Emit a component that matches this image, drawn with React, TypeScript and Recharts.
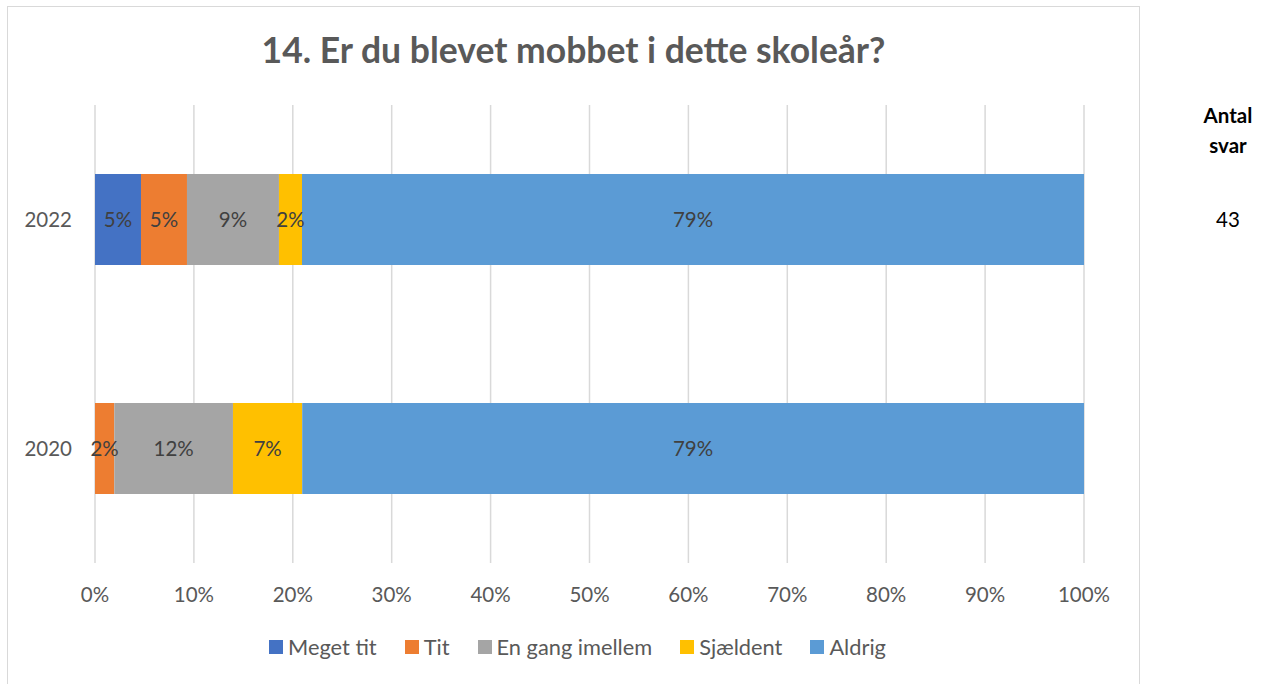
import React from 'react';
import { BarChart, Bar, XAxis, YAxis, CartesianGrid, LabelList } from 'recharts';

const title = '14. Er du blevet mobbet i dette skoleår?';
const years = ['2022', '2020'];
const megetTit = [4.65, 0];
const tit = [4.65, 1.95];
const enGang = [9.3, 12.0];
const sjaeldent = [2.33, 7.0];
const aldrig = [79.07, 79.05];
const antalSvar = ['43', ''];
const xTicks = [0, 10, 20, 30, 40, 50, 60, 70, 80, 90, 100];

const series = [
  { key: 'megetTit', name: 'Meget tit', color: '#4472C4' },
  { key: 'tit', name: 'Tit', color: '#ED7D31' },
  { key: 'enGang', name: 'En gang imellem', color: '#A5A5A5' },
  { key: 'sjaeldent', name: 'Sjældent', color: '#FFC000' },
  { key: 'aldrig', name: 'Aldrig', color: '#5B9BD5' },
];

const data = years.map((y, i) => ({
  year: y,
  megetTit: megetTit[i],
  tit: tit[i],
  enGang: enGang[i],
  sjaeldent: sjaeldent[i],
  aldrig: aldrig[i],
  antal: antalSvar[i],
}));

const FONT = 'Lato, "Open Sans", sans-serif';
const FS = 20.5;

const RightTick = (props: any) => {
  const { x, y, payload } = props;
  const idx = years.indexOf(payload.value);
  const label = idx >= 0 ? antalSvar[idx] : '';
  return (
    <text x={x + 144} y={y} dy="0.355em" textAnchor="middle" fill="#000000" fontSize={FS} fontFamily={FONT}>
      {label}
    </text>
  );
};

export default function App() {
  return (
    <div style={{ position: 'absolute', left: 0, top: 0, width: 1263, height: 684, background: '#fff', fontFamily: FONT, overflow: 'hidden' }}>
      <div style={{ position: 'absolute', left: 7, top: 6, width: 1131, height: 720, border: '1.5px solid #d9d9d9' }} />
      <div style={{ position: 'absolute', left: 7, top: 32, width: 1133, textAlign: 'center', fontSize: 35.5, lineHeight: '35px', fontWeight: 700, color: '#595959' }}>
        {title}
      </div>
      <div style={{ position: 'absolute', left: 1178, top: 100, width: 100, textAlign: 'center', fontSize: FS, lineHeight: '30px', fontWeight: 700, color: '#000' }}>
        Antal<br />svar
      </div>
      <div style={{ position: 'absolute', left: 0, top: 0 }}>
        <BarChart
          width={1263}
          height={684}
          data={data}
          layout="vertical"
          margin={{ top: 105, right: 0, bottom: 91, left: 0 }}
          barSize={91}
        >
          <CartesianGrid horizontal={false} stroke="#d9d9d9" strokeWidth={1.5} />
          <XAxis
            type="number"
            domain={[0, 100]}
            ticks={xTicks}
            tickFormatter={(v: number) => `${v}%`}
            axisLine={false}
            tickLine={false}
            tickSize={0}
            tickMargin={24}
            height={30}
            tick={{ fill: '#595959', fontSize: FS, fontFamily: FONT }}
            interval={0}
          />
          <YAxis
            type="category"
            dataKey="year"
            width={95}
            axisLine={false}
            tickLine={false}
            tickSize={0}
            tickMargin={23}
            tick={{ fill: '#595959', fontSize: FS, fontFamily: FONT }}
          />
          <YAxis
            yAxisId="r"
            type="category"
            dataKey="year"
            orientation="right"
            width={179}
            axisLine={false}
            tickLine={false}
            tickSize={0}
            tickMargin={0}
            tick={<RightTick />}
          />
          {series.map((s) => (
            <Bar key={s.key} dataKey={s.key} name={s.name} stackId="a" fill={s.color} isAnimationActive={false}>
              <LabelList
                dataKey={s.key}
                position="center"
                fill="#404040"
                fontSize={FS}
                fontFamily={FONT}
                formatter={(v: any) => (Number(v) > 0 ? `${Math.round(Number(v))}%` : '')}
              />
            </Bar>
          ))}
        </BarChart>
      </div>
      <div style={{ position: 'absolute', left: 0, top: 634, width: 1155, display: 'flex', justifyContent: 'center', alignItems: 'center', fontSize: 21.8, lineHeight: '26px', color: '#595959' }}>
        {series.map((s, i) => (
          <div key={s.key} style={{ display: 'flex', alignItems: 'center', marginRight: i < series.length - 1 ? 28 : 0 }}>
            <span style={{ display: 'inline-block', width: 14, height: 14, background: s.color, marginRight: 5 }} />
            <span>{s.name}</span>
          </div>
        ))}
      </div>
    </div>
  );
}
